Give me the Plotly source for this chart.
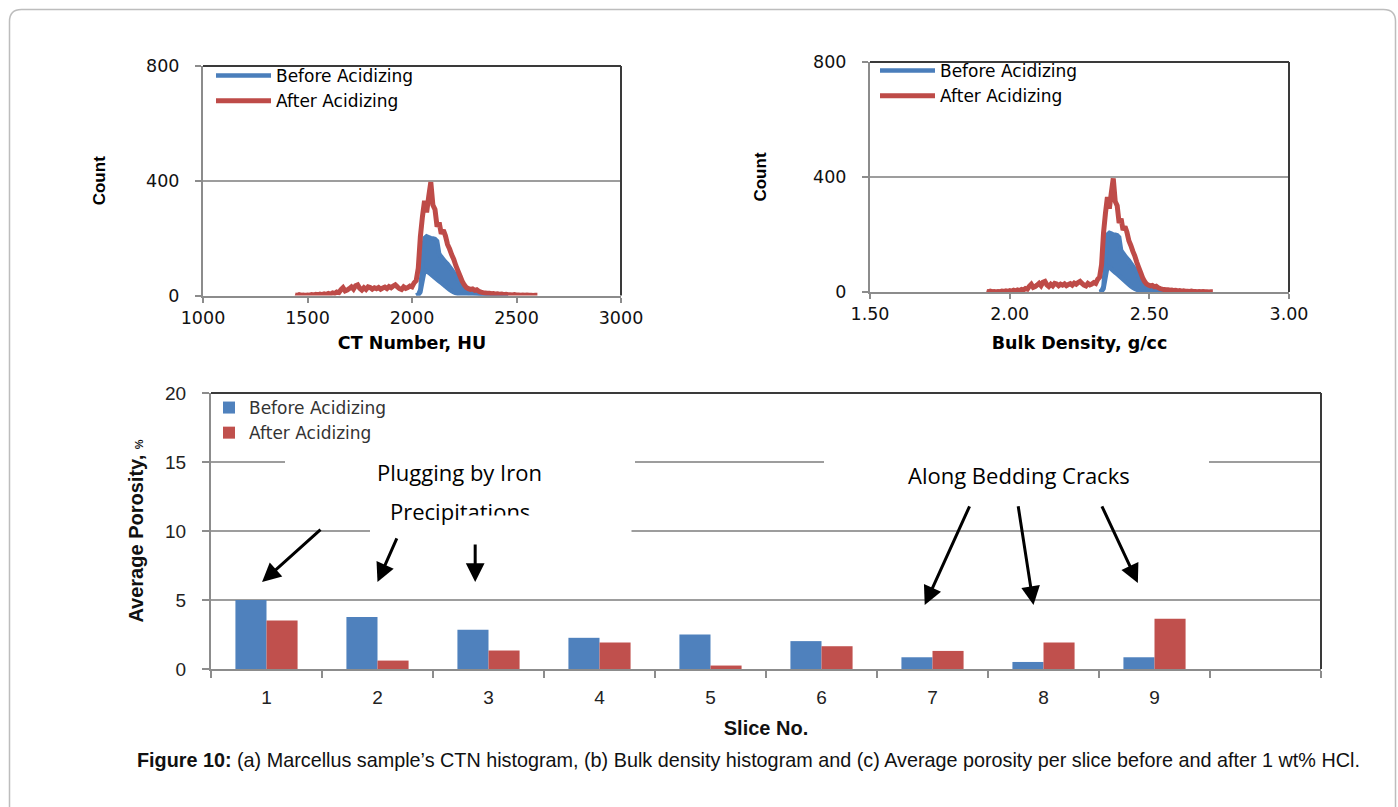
import plotly.graph_objects as go

# ---------------- data ----------------
# (a) CT-number histogram (bins of 10 HU)
ct_bins = list(range(1440, 2610, 10))
after_counts = [
    2, 0, 3, 1, 2, 0, 2, 1, 3, 2,
    4, 2, 5, 3, 6, 4, 7, 5, 9, 7,
    12, 10, 20, 27, 16, 19, 24, 30, 22, 34,
    37, 25, 19, 27, 21, 30, 28, 22, 27, 24,
    28, 22, 26, 29, 24, 31, 27, 33, 37, 30,
    24, 21, 30, 25, 28, 33, 30, 44, 52, 95,
    205, 275, 330, 290, 345, 395, 315, 300, 240, 255,
    215, 228, 208, 178, 162, 142, 126, 104, 86, 68,
    50, 37, 28, 24, 21, 23, 18, 20, 15, 12,
    10, 9, 8, 8, 6, 7, 5, 6, 4, 5,
    3, 4, 3, 3, 2, 3, 2, 2, 1, 2,
    1, 2, 1, 1, 0, 1, 1,
]
# "before" histogram is a dense noisy band: read as its upper and lower envelopes
before_bins = list(range(2020, 2470, 10))
before_upper = [
    0, 3, 20, 110, 200, 206, 203, 200, 199, 197,
    190, 145, 135, 126, 117, 110, 100, 90, 80, 70,
    56, 45, 35, 27, 21, 17, 14, 12, 10, 9,
    7, 6, 5, 5, 4, 3, 3, 2, 2, 1,
    1, 1, 0, 0, 0,
]
before_lower = [
    0, 2, 12, 50, 88, 85, 80, 74, 68, 62,
    56, 50, 44, 38, 32, 26, 20, 15, 11, 8,
    6, 4, 3, 2, 2, 1, 1, 1, 0, 0,
    0, 0, 0, 0, 0, 0, 0, 0, 0, 0,
    0, 0, 0, 0, 0,
]
# (b) bulk density: linear CT -> density calibration of the same scan
bd_offset = 0.910
bd_per_hu = 0.000699
after_bd = [round(bd_offset + bd_per_hu * c, 4) for c in ct_bins]
before_bd = [round(bd_offset + bd_per_hu * c, 4) for c in before_bins]

# (c) average porosity per slice
slices = [1, 2, 3, 4, 5, 6, 7, 8, 9]
porosity_before = [5.0, 3.76, 2.84, 2.26, 2.50, 2.02, 0.85, 0.51, 0.85]
porosity_after = [3.52, 0.61, 1.34, 1.92, 0.25, 1.65, 1.31, 1.92, 3.64]

series_names = ["Before Acidizing", "After Acidizing"]
ct_ticks = [1000, 1500, 2000, 2500, 3000]
bd_ticks = [1.5, 2.0, 2.5, 3.0]
bd_ticktext = ["1.50", "2.00", "2.50", "3.00"]
count_ticks = [0, 400, 800]

# ---------------- style ----------------
W, H = 1398, 807
FONT = "Liberation Sans, Arial, sans-serif"
WIDE = "DejaVu Sans, Verdana, sans-serif"
BLUE_L, RED_L = "#4A7EBB", "#BE4B48"
BLUE_B, RED_B = "#4F81BD", "#C0504D"
AX = "#8c8c8c"
GRID = "#9d9d9d"
FRAME = "#3a3a3a"


def px_x(p):
    return p / W


def px_y(p):
    return 1 - p / H


fig = go.Figure()

for xs_before, xs_after, xa, ya, lg in ((before_bins, ct_bins, "x", "y", "legend"),
                                        (before_bd, after_bd, "x2", "y2", "legend2")):
    fig.add_trace(go.Scatter(x=xs_before, y=before_lower, mode="lines", name=series_names[0],
                             line=dict(color=BLUE_L, width=4.5, simplify=False), xaxis=xa, yaxis=ya,
                             legend=lg, showlegend=True, legendgroup="b" + lg, hoverinfo="skip"))
    fig.add_trace(go.Scatter(x=xs_before, y=before_upper, mode="lines", name=series_names[0],
                             line=dict(color=BLUE_L, width=4.5, simplify=False), fill="tonexty",
                             fillcolor=BLUE_L, xaxis=xa, yaxis=ya, legend=lg, legendgroup="b" + lg,
                             showlegend=False))
    fig.add_trace(go.Scatter(x=xs_after, y=after_counts, mode="lines", name=series_names[1],
                             line=dict(color=RED_L, width=5, simplify=False), xaxis=xa, yaxis=ya,
                             legend=lg))
# (c)
fig.add_trace(go.Bar(x=slices, y=porosity_before, name=series_names[0], marker=dict(color=BLUE_B),
                     xaxis="x3", yaxis="y3", legend="legend3"))
fig.add_trace(go.Bar(x=slices, y=porosity_after, name=series_names[1], marker=dict(color=RED_B),
                     xaxis="x3", yaxis="y3", legend="legend3"))

tickfont = dict(family=WIDE, size=17.5, color="#111")
titlefont = dict(family=WIDE, size=17.5, color="#000")
countfont = dict(family=FONT, size=17, color="#000")

common_x = dict(showline=True, linecolor=AX, linewidth=2, ticks="outside", ticklen=5,
                tickcolor=AX, tickwidth=1.5, showgrid=False, zeroline=False, tickfont=tickfont,
                automargin=False)
common_y = dict(showline=True, linecolor=AX, linewidth=2, ticks="outside", ticklen=6,
                tickcolor=AX, tickwidth=1.5, showgrid=True, gridcolor=GRID, gridwidth=1.5,
                zeroline=False, tickfont=tickfont, ticklabelstandoff=12, automargin=False)

legend_common = dict(xanchor="left", yanchor="top", bgcolor="rgba(0,0,0,0)", tracegroupgap=0)

fig.update_layout(
    template="none",
    width=W, height=H, autosize=False,
    margin=dict(l=0, r=0, t=0, b=0, pad=0),
    font=dict(family=FONT, color="#000"),
    paper_bgcolor="white", plot_bgcolor="white",
    barmode="group", bargap=0.44, bargroupgap=0,
    xaxis=dict(domain=[px_x(203), px_x(621)], anchor="y", range=[1000, 3000], tickvals=ct_ticks,
               title=dict(text="<b>CT Number, HU</b>", font=titlefont, standoff=10), **common_x),
    yaxis=dict(domain=[px_y(295.5), px_y(66)], anchor="x", range=[0, 800], tickvals=count_ticks,
               title=dict(text="<b>Count</b>", font=countfont, standoff=36), **common_y),
    xaxis2=dict(domain=[px_x(870), px_x(1289)], anchor="y2", range=[1.5, 3.0], tickvals=bd_ticks,
                ticktext=bd_ticktext,
                title=dict(text="<b>Bulk Density, g/cc</b>", font=titlefont, standoff=14), **common_x),
    yaxis2=dict(domain=[px_y(292), px_y(62)], anchor="x2", range=[0, 800], tickvals=count_ticks,
                title=dict(text="<b>Count</b>", font=countfont, standoff=42), **common_y),
    xaxis3=dict(domain=[px_x(211), px_x(1321)], anchor="y3", range=[0.5, 10.5], tickvals=slices,
                ticktext=[str(s) for s in slices], showline=True, linecolor=AX, linewidth=2,
                ticks="", showgrid=False, zeroline=False, tickfont=dict(family=FONT, size=19, color="#222"),
                ticklabelstandoff=10, automargin=False,
                minor=dict(tick0=0.5, dtick=1, ticks="outside", ticklen=7, tickcolor=AX, tickwidth=1.5,
                           showgrid=False),
                title=dict(text="<b>Slice No.</b>", font=dict(family=FONT, size=20, color="#111"), standoff=14)),
    yaxis3=dict(domain=[px_y(669), px_y(393)], anchor="x3", range=[0, 20], tickvals=[0, 5, 10, 15, 20],
                showline=True, linecolor=AX, linewidth=2, ticks="outside", ticklen=7, tickcolor=AX,
                tickwidth=1.5, showgrid=True, gridcolor=GRID, gridwidth=1.5, zeroline=False,
                tickfont=dict(family=FONT, size=19, color="#222"), ticklabelstandoff=12, automargin=False,
                title=dict(text="<b>Average Porosity, <span style='font-size:11px'>%</span></b>",
                           font=dict(family=FONT, size=20, color="#111"), standoff=16)),
    legend=dict(x=px_x(211), y=px_y(58), font=dict(family=WIDE, size=17, color="#000"), itemwidth=55,
                **legend_common),
    legend2=dict(x=px_x(875), y=px_y(53), font=dict(family=WIDE, size=17, color="#000"), itemwidth=55,
                 **legend_common),
    legend3=dict(x=px_x(209), y=px_y(390), font=dict(family=WIDE, size=17, color="#333"), itemwidth=30,
                 **legend_common),
    showlegend=True,
)

shapes = []
# dark top/right plot frames
for xr, yr in (("x domain", "y domain"), ("x2 domain", "y2 domain"), ("x3 domain", "y3 domain")):
    shapes.append(dict(type="line", xref=xr, yref=yr, x0=0, x1=1, y0=1, y1=1,
                       line=dict(color=FRAME, width=2), layer="above"))
    shapes.append(dict(type="line", xref=xr, yref=yr, x0=1, x1=1, y0=0, y1=1,
                       line=dict(color=FRAME, width=2), layer="above"))
# white text boxes that hide parts of the gridlines in (c)
for x0, x1, y0, y1 in ((285, 635, 440, 505), (370, 550, 515, 538), (824, 1209, 448, 498)):
    shapes.append(dict(type="rect", xref="paper", yref="paper", x0=px_x(x0), x1=px_x(x1),
                       y0=px_y(y1), y1=px_y(y0), fillcolor="white", line=dict(width=0), layer="above"))
# rounded figure frame
l, r, t, b, rad = 9.5, 1395.5, 9.5, 830, 12
rx, ry = rad / W, rad / H
path = (f"M {px_x(l)+rx},{px_y(t)} L {px_x(r)-rx},{px_y(t)} Q {px_x(r)},{px_y(t)} {px_x(r)},{px_y(t)-ry} "
        f"L {px_x(r)},{px_y(b)+ry} Q {px_x(r)},{px_y(b)} {px_x(r)-rx},{px_y(b)} "
        f"L {px_x(l)+rx},{px_y(b)} Q {px_x(l)},{px_y(b)} {px_x(l)},{px_y(b)+ry} "
        f"L {px_x(l)},{px_y(t)-ry} Q {px_x(l)},{px_y(t)} {px_x(l)+rx},{px_y(t)} Z")
shapes.append(dict(type="path", xref="paper", yref="paper", path=path,
                   line=dict(color="#bdbdbd", width=1.5), fillcolor="rgba(0,0,0,0)", layer="below"))
fig.update_layout(shapes=shapes)

ann_font = dict(family="Open Sans, sans-serif", size=22, color="#000")
annotations = [
    dict(text="Plugging by Iron", x=2.736, y=14.3, xref="x3", yref="y3", showarrow=False, font=ann_font),
    dict(text="Precipitations", x=2.745, y=11.45, xref="x3", yref="y3", showarrow=False, font=ann_font),
    # white box of the next text frame clipping the line above
    dict(text=" ", x=px_x(460), y=px_y(524), xref="paper", yref="paper", showarrow=False,
         width=170, height=16, bgcolor="white", borderpad=0, font=dict(size=4)),
    dict(text="Along Bedding Cracks", x=7.78, y=14.08, xref="x3", yref="y3", showarrow=False,
         font=dict(family="Open Sans, sans-serif", size=22, color="#000")),
    dict(text="<b>Figure 10:</b> (a) Marcellus sample\u2019s CTN histogram, (b) Bulk density histogram and "
              "(c) Average porosity per slice before and after 1 wt% HCl.",
         x=px_x(748), y=px_y(773), xref="paper", yref="paper", showarrow=False,
         font=dict(family=FONT, size=19.8, color="#111")),
]
arrows = [  # (tip x, tip y, tail x, tail y) in slice / porosity units
    (0.96, 6.3, 1.50, 10.2),
    (2.00, 6.3, 2.18, 9.57),
    (2.88, 6.3, 2.88, 9.13),
    (6.93, 4.64, 7.34, 11.9),
    (7.91, 4.64, 7.77, 11.9),
    (8.85, 6.23, 8.52, 11.9),
]
for tx, ty, ax_, ay_ in arrows:
    annotations.append(dict(x=tx, y=ty, ax=ax_, ay=ay_, xref="x3", yref="y3", axref="x3", ayref="y3",
                            text="", showarrow=True, arrowhead=2, arrowsize=1.25, arrowwidth=3,
                            arrowcolor="#000", standoff=0))
fig.update_layout(annotations=annotations)

fig.write_html("out.html")
